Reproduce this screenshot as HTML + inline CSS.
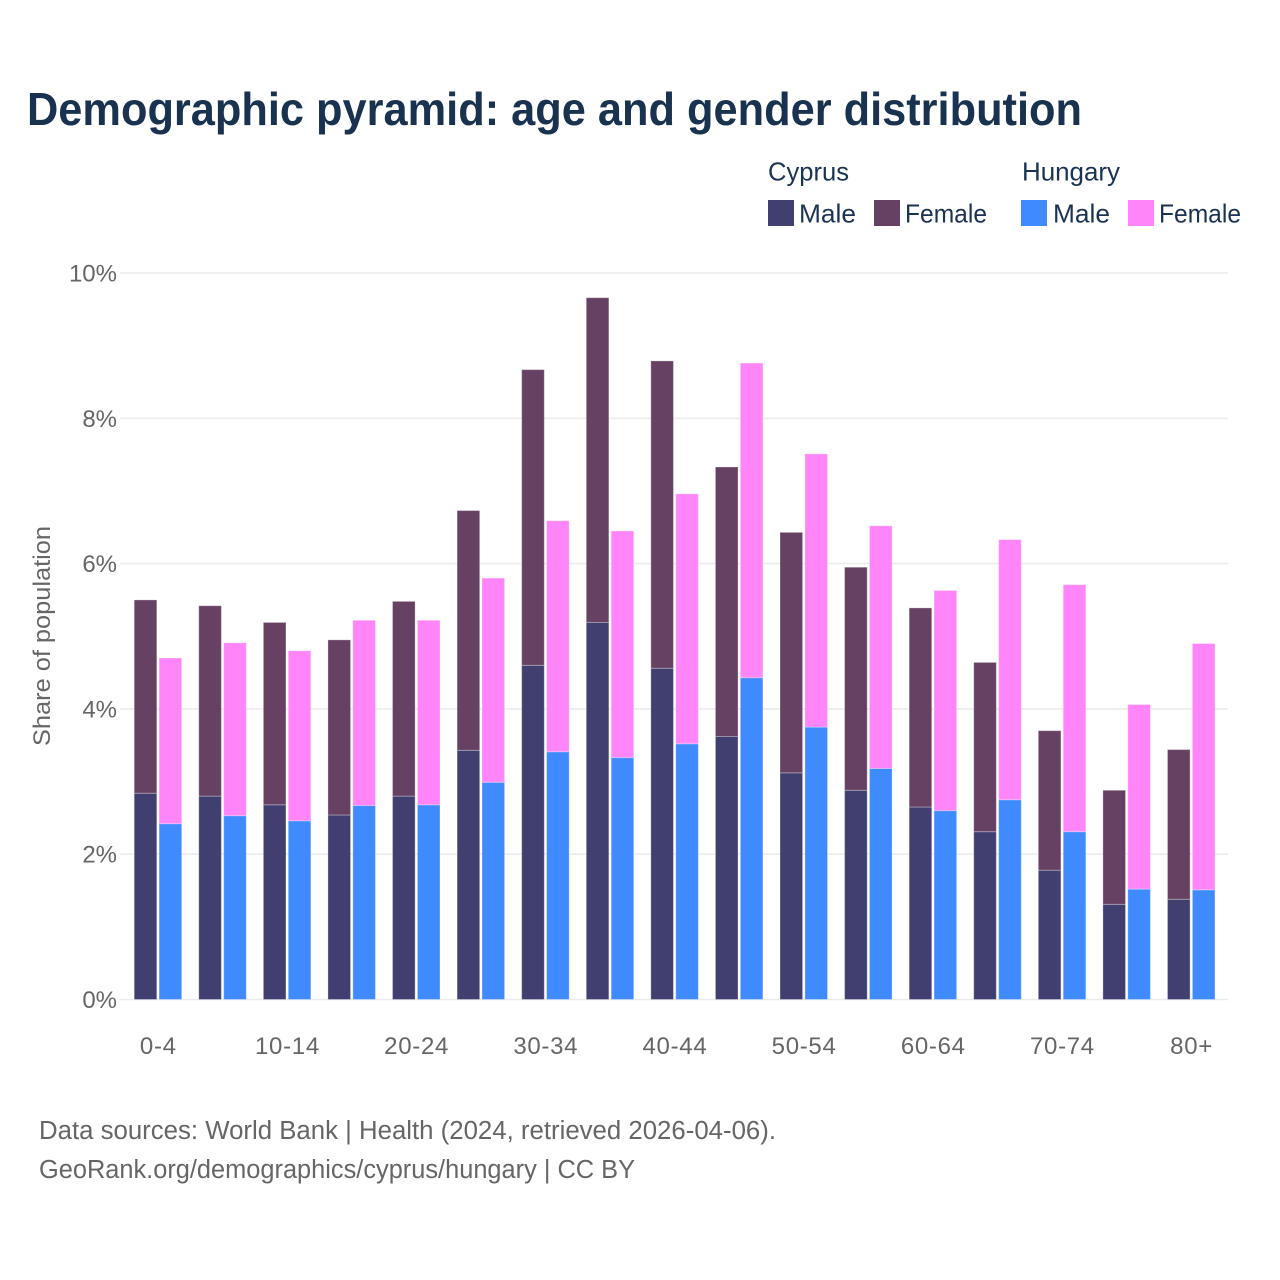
<!DOCTYPE html>
<html lang="en">
<head>
<meta charset="utf-8">
<title>Demographic pyramid</title>
<style>
html,body{margin:0;padding:0;background:#fff;width:1280px;height:1280px;overflow:hidden}
svg{display:block}
text{font-family:"Liberation Sans",sans-serif}
.legend{font-size:26px;fill:#1b3353}
.tick{font-size:24px;fill:#666666}
.foot{font-size:25.5px;fill:#666666}
</style>
</head>
<body>
<svg id="chart" width="1280" height="1280" viewBox="0 0 1280 1280" xmlns="http://www.w3.org/2000/svg">
<rect x="0" y="0" width="1280" height="1280" fill="#ffffff"/>
<text x="27" y="125" font-size="46" font-weight="700" fill="#19324f" textLength="1055" lengthAdjust="spacingAndGlyphs">Demographic pyramid: age and gender distribution</text>
<g>
<text class="legend" x="768" y="180.5" textLength="81" lengthAdjust="spacingAndGlyphs">Cyprus</text>
<text class="legend" x="1022" y="180.5" textLength="98" lengthAdjust="spacingAndGlyphs">Hungary</text>
<rect x="768" y="200" width="26" height="26" fill="#413f70"/>
<text class="legend" x="799" y="222.5" textLength="57" lengthAdjust="spacingAndGlyphs">Male</text>
<rect x="874" y="200" width="26" height="26" fill="#664163"/>
<text class="legend" x="905" y="222.5" textLength="82" lengthAdjust="spacingAndGlyphs">Female</text>
<rect x="1021" y="200" width="26" height="26" fill="#408aff"/>
<text class="legend" x="1053" y="222.5" textLength="57" lengthAdjust="spacingAndGlyphs">Male</text>
<rect x="1128" y="200" width="26" height="26" fill="#ff85f9"/>
<text class="legend" x="1159" y="222.5" textLength="82" lengthAdjust="spacingAndGlyphs">Female</text>
</g>
<g id="grid"></g>
<g id="yticks"></g>
<g id="bars"></g>
<g id="xticks"></g>
<text x="0" y="0" transform="translate(50 746) rotate(-90)" font-size="24" fill="#666666" textLength="220" lengthAdjust="spacingAndGlyphs">Share of population</text>
<text class="foot" x="39" y="1139" textLength="737" lengthAdjust="spacingAndGlyphs">Data sources: World Bank | Health (2024, retrieved 2026-04-06).</text>
<text class="foot" x="39" y="1178" textLength="596" lengthAdjust="spacingAndGlyphs">GeoRank.org/demographics/cyprus/hungary | CC BY</text>
</svg>
<script>
const categories = ["0-4","5-9","10-14","15-19","20-24","25-29","30-34","35-39","40-44","45-49","50-54","55-59","60-64","65-69","70-74","75-79","80+"];
const cyprusMale = [2.84,2.80,2.68,2.54,2.80,3.43,4.60,5.19,4.56,3.62,3.12,2.88,2.65,2.31,1.78,1.31,1.38];
const cyprusFemale = [2.66,2.62,2.51,2.41,2.68,3.30,4.07,4.47,4.23,3.71,3.31,3.07,2.74,2.33,1.92,1.57,2.06];
const hungaryMale = [2.42,2.53,2.46,2.67,2.68,2.99,3.41,3.33,3.52,4.43,3.75,3.18,2.60,2.75,2.31,1.52,1.51];
const hungaryFemale = [2.28,2.38,2.34,2.55,2.54,2.81,3.18,3.12,3.44,4.33,3.76,3.34,3.03,3.58,3.40,2.54,3.39];
const yTickValues = [0,2,4,6,8,10];
const yTickLabels = ["0%","2%","4%","6%","8%","10%"];
const xTickLabels = ["0-4","","10-14","","20-24","","30-34","","40-44","","50-54","","60-64","","70-74","","80+"];

const NS = "http://www.w3.org/2000/svg";
function yScale(v){ return 999.5 - v * 72.65; }
function xCenter(i){ return 158 + i * 64.58; }
const barWidth = 22.6;

function make(tag, attrs, parent){
  const el = document.createElementNS(NS, tag);
  for (const k in attrs) el.setAttribute(k, attrs[k]);
  parent.appendChild(el);
  return el;
}

const grid = document.getElementById("grid");
const yticks = document.getElementById("yticks");
yTickValues.forEach(function(v, i){
  const line = make("line", {x1:120, x2:1228, y1:yScale(v), y2:yScale(v), stroke:"#ececec", "stroke-width":1.6}, grid);
  
  
  const t = make("text", {x:117, y:yScale(v) + 8.5, "text-anchor":"end", class:"tick"}, yticks);
  
  
  t.textContent = yTickLabels[i];
});

const bars = document.getElementById("bars");
function drawSegment(x, base, value, fill, name){
  const top = yScale(base + value);
  const r = make("rect", {x:x, y:top, width:barWidth, height:yScale(base) - top, fill:fill, stroke:"#ffffff", "stroke-opacity":0.3, "stroke-width":1}, bars);
  
  
}
categories.forEach(function(c, i){
  const cx = xCenter(i);
  const leftX = cx - 23.8;
  const rightX = cx + 1.1;
  drawSegment(leftX, 0, cyprusMale[i], "#413f70", "bar-cyprus-male");
  drawSegment(leftX, cyprusMale[i], cyprusFemale[i], "#664163", "bar-cyprus-female");
  drawSegment(rightX, 0, hungaryMale[i], "#408aff", "bar-hungary-male");
  drawSegment(rightX, hungaryMale[i], hungaryFemale[i], "#ff85f9", "bar-hungary-female");
});

const xticks = document.getElementById("xticks");
xTickLabels.forEach(function(label, i){
  if (!label) return;
  const t = make("text", {x:xCenter(i) + 0.3, y:1054, "text-anchor":"middle", class:"tick", "letter-spacing":0.7}, xticks);
  
  
  t.textContent = label;
});
</script>
</body>
</html>
